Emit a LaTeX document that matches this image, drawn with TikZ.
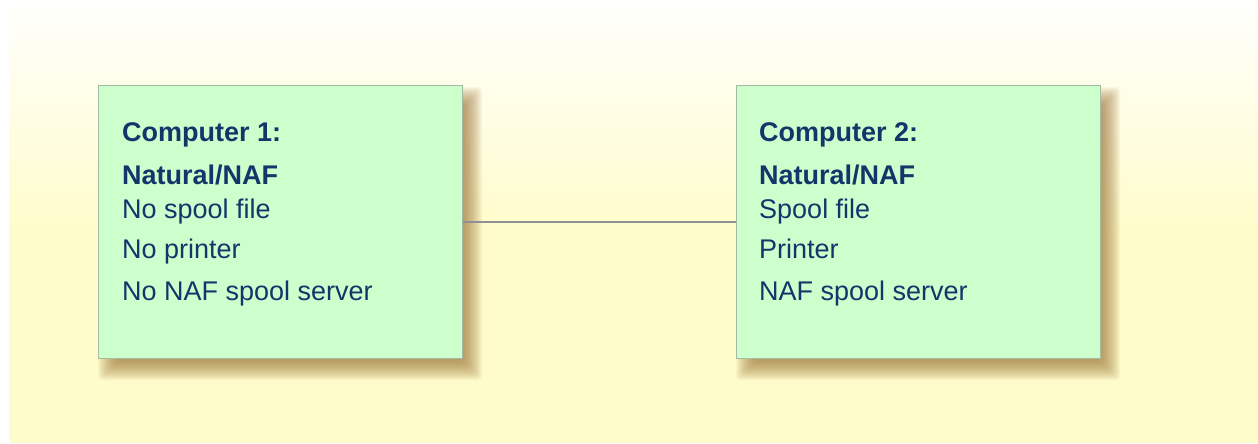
\documentclass[tikz,border=0pt]{standalone}
\usepackage{fontspec}
\setmainfont{Liberation Sans}
\definecolor{bgyellow}{HTML}{FFFCCB}
\definecolor{boxfill}{HTML}{CCFFCC}
\definecolor{boxline}{HTML}{A3BBA3}
\definecolor{txt}{HTML}{12356A}
\definecolor{shadowc}{HTML}{9C7236}
\definecolor{linkc}{HTML}{8E9094}
\begin{document}
\begin{tikzpicture}[x=1pt,y=-1pt,
  compbox/.style={draw=boxline,line width=1.3pt,fill=boxfill,rectangle,inner sep=0pt,
    minimum width=364pt,minimum height=273pt,anchor=north west},
  boxtext/.style={anchor=base west,inner sep=0pt,text=txt,font=\fontsize{27}{30}\selectfont},
  boldtext/.style={boxtext,font=\fontsize{27}{30}\selectfont\bfseries},
  link/.style={draw=linkc,line width=2pt}]
\useasboundingbox (0,0) rectangle (1258,444);
\fill[white] (0,0) rectangle (1258,444);
\fill[bgyellow] (9,0) rectangle (1258,443);
\shade[top color=white!97!bgyellow,bottom color=bgyellow] (9,0) rectangle (1258,230);
% shadows
\foreach \bx in {98,736}{
  \foreach \k in {0,...,19}{
    \pgfmathsetmacro{\ins}{-10+\k}
    \fill[shadowc,opacity=0.05,rounded corners=4pt]
      (\bx+10+\ins,85+12+\ins) rectangle (\bx+364+10-\ins,358+12-\ins);
  }
}
\node[compbox] (c1) at (98,85) {};
\node[compbox] (c2) at (736,85) {};
\draw[link] (c1.east) -- (c2.west);
% texts box 1
\node[boldtext] (t11) at (122,141) {Computer 1:};
\node[boldtext] (t12) at (122,184) {Natural/NAF};
\node[boxtext] (t13) at (122,218) {No spool file};
\node[boxtext] (t14) at (122,258) {No printer};
\node[boxtext] (t15) at (122,300) {No NAF spool server};
% texts box 2
\node[boldtext] (t21) at (759,141) {Computer 2:};
\node[boldtext] (t22) at (759,184) {Natural/NAF};
\node[boxtext] (t23) at (759,218) {Spool file};
\node[boxtext] (t24) at (759,258) {Printer};
\node[boxtext] (t25) at (759,300) {NAF spool server};
\end{tikzpicture}
\end{document}
